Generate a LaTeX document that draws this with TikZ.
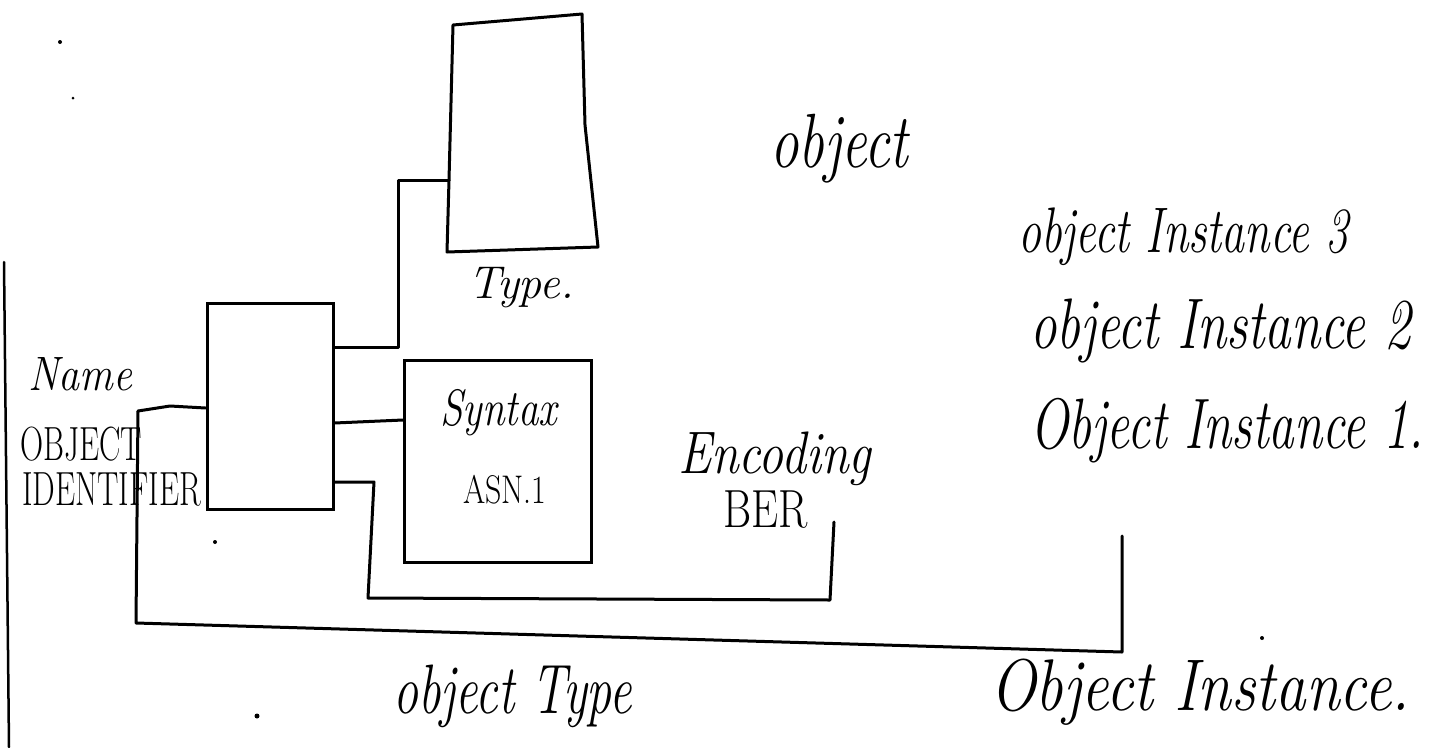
\documentclass[tikz,border=0pt]{standalone}
\usepackage{fontspec}
\usepackage{graphicx}
\newcommand\hwtext[3]{{\fontsize{#1}{#1}\selectfont\scalebox{1}[#2]{#3}}}
\tikzset{
  hand/.style={line width=3pt, line join=round, line cap=round, black},
  boxnode/.style={draw, line width=3pt, rectangle, inner sep=0pt},
  ghost/.style={draw=none, rectangle, inner sep=0pt},
  lbl/.style={inner sep=0pt, anchor=base west, font=\itshape},
  ulbl/.style={inner sep=0pt, anchor=base west, font=\upshape},
}
\begin{document}
\begin{tikzpicture}[x=1pt,y=-1pt]
\useasboundingbox[fill=white] (0,0) rectangle (1431,747);

% boxes
\node[boxnode, minimum width=126pt, minimum height=206pt] (A) at (270,406) {};
\node[ghost, minimum width=150pt, minimum height=238pt] (T) at (523,134) {};
\draw[hand] (453,25) -- (582,14) -- (585,125) -- (598,247) -- (447,252) -- (449,180) -- cycle;
\node[boxnode, minimum width=187pt, minimum height=202pt] (S) at (498,461) {};

% coordinates
\coordinate (berend) at (834,522);
\coordinate (instend) at (1122,536);
\coordinate (idtop) at (138,411);
\coordinate (border1) at (4,262);
\coordinate (border2) at (9,747);

% left page edge
\draw[hand, line width=2.5pt] (border1) -- (border2);

% connectors
\draw[hand] (A.east |- 0,347) -- (398,347) -- (398,180) -- (449,180);
\draw[hand] (A.east |- 0,423) -- (S.west |- 0,420);
\draw[hand] (A.east |- 0,482) -- (374,482) -- (368,598) -- (830,600) -- (berend);
\draw[hand] (idtop) -- (170,406) -- (A.west |- 0,408);
\draw[hand] (idtop) -- (136,623) -- (1122,652) -- (instend);

% stray dots
\fill (60,42) circle (2pt);
\fill (73,98) circle (1.5pt);
\fill (215,542) circle (2pt);
\fill (1262,638) circle (2pt);
\fill (257,716) circle (2.5pt);

% labels
\node[lbl] (lobj) at (770,167) {\hwtext{57}{1.35}{object}};
\node[lbl] (ltype) at (468,298) {\hwtext{46}{1.0}{Type.}};
\node[lbl] (lname) at (28,390) {\hwtext{42}{1.15}{Name}};
\node[ulbl] (lobjid) at (20,460) {\hwtext{32}{1.5}{OBJECT}};
\node[ulbl] (lident) at (22,505) {\hwtext{32}{1.5}{IDENTIFIER}};
\node[lbl] (lsyn) at (440,425) {\hwtext{41}{1.25}{Syntax}};
\node[ulbl] (lasn) at (463,503) {\hwtext{32}{1.25}{ASN.1}};
\node[lbl] (lenc) at (678,473) {\hwtext{50}{1.2}{Encoding}};
\node[ulbl] (lber) at (723,527) {\hwtext{43}{1.25}{BER}};
\node[lbl] (li3) at (1018,252) {\hwtext{46}{1.4}{object Instance 3}};
\node[lbl] (li2) at (1030,348) {\hwtext{53}{1.35}{object Instance 2}};
\node[lbl] (li1) at (1030,448) {\hwtext{51}{1.4}{Object Instance 1.}};
\node[lbl] (lot) at (393,713) {\hwtext{50}{1.4}{object Type}};
\node[lbl] (loi) at (990,710) {\hwtext{61}{1.2}{Object Instance.}};
\end{tikzpicture}
\end{document}
